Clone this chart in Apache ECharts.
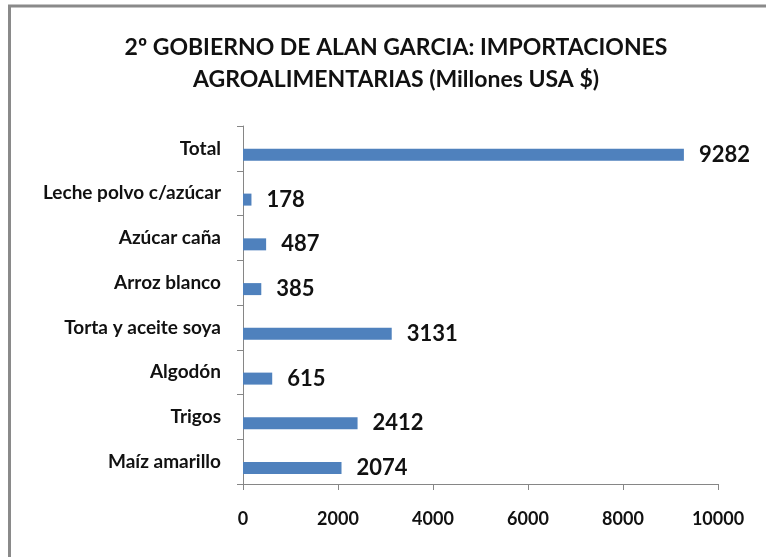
<!DOCTYPE html>
<html>
<head>
<meta charset="utf-8">
<script src="https://cdn.jsdelivr.net/npm/echarts@6/dist/echarts.min.js"></script>
<style>
  html, body { margin: 0; padding: 0; background: #fff; }
  #chartImg { width: 766px; height: 557px; }
</style>
</head>
<body>
<div id="chartImg"></div>
<script>
// data, bottom to top
var categories = ['Maíz amarillo', 'Trigos', 'Algodón', 'Torta y aceite soya',
                  'Arroz blanco', 'Azúcar caña', 'Leche polvo c/azúcar', 'Total'];
var values = [2074, 2412, 615, 3131, 385, 487, 178, 9282];
var xTicks = [0, 2000, 4000, 6000, 8000, 10000];

var myChart = echarts.init(document.getElementById('chartImg'));
var option = {
    backgroundColor: '#fff',
    animation: false,
    title: {
        text: '2º GOBIERNO DE ALAN GARCIA: IMPORTACIONES\nAGROALIMENTARIAS (Millones USA $)',
        left: 391,
        top: 27,
        textAlign: 'center',
        textStyle: {
            fontFamily: 'Lato',
            fontSize: 23,
            fontWeight: 'bold',
            lineHeight: 32,
            color: '#111'
        }
    },
    graphic: [
        { type: 'line', shape: { x1: 9.5, y1: 6, x2: 9.5, y2: 557 }, style: { stroke: '#8a8a8a', lineWidth: 3 } },
        { type: 'line', shape: { x1: 8, y1: 6, x2: 766, y2: 6 }, style: { stroke: '#8a8a8a', lineWidth: 3 } }
    ],
    grid: {
        left: 243,
        right: 48,
        top: 126,
        bottom: 73
    },
    xAxis: {
        type: 'value',
        min: xTicks[0],
        max: xTicks[xTicks.length - 1],
        interval: 2000,
        splitLine: { show: false },
        axisLine: { show: true, lineStyle: { color: '#868686' } },
        axisTick: { show: true, length: 6, lineStyle: { color: '#868686' } },
        axisLabel: {
            margin: 26,
            fontFamily: 'Lato',
            fontSize: 18,
            fontWeight: 'bold',
            color: '#111',
            formatter: function (v) { return String(v); }
        }
    },
    yAxis: {
        type: 'category',
        data: categories,
        axisLine: { show: true, lineStyle: { color: '#868686' } },
        axisTick: { show: true, length: 6, lineStyle: { color: '#868686' } },
        axisLabel: {
            margin: 22,
            fontFamily: 'Lato',
            fontSize: 19,
            fontWeight: 'bold',
            color: '#111'
        }
    },
    series: [
        {
            type: 'bar',
            data: [],
            barWidth: 12
        },
        {
            type: 'bar',
            data: values,
            barWidth: 12,
            barGap: '8%',
            itemStyle: { color: '#4f81bd' },
            label: {
                show: true,
                position: 'right',
                distance: 15,
                fontFamily: 'Lato',
                fontSize: 22,
                fontWeight: 'bold',
                color: '#111'
            }
        }
    ]
};
myChart.setOption(option);
</script>
</body>
</html>
